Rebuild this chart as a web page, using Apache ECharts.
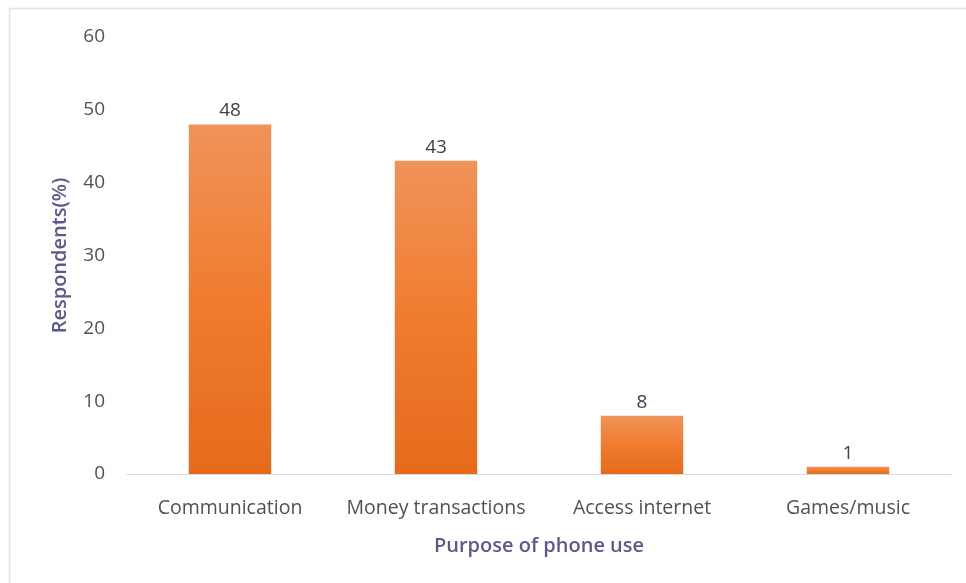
<!DOCTYPE html>
<html>
<head>
<meta charset="utf-8">
<script src="https://cdn.jsdelivr.net/npm/echarts@6/dist/echarts.min.js"></script>
<style>
  html, body { margin: 0; padding: 0; background: #ffffff; }
  #chart { width: 966px; height: 583px; }
</style>
</head>
<body>
<div id="chart"></div>
<script>
// Share of respondents by main purpose of phone use
const categories = ['Communication', 'Money transactions', 'Access internet', 'Games/music'];
const respondents = [48, 43, 8, 1];
const yTicks = { min: 0, max: 60, interval: 10 };

const FONT = '"Open Sans", Lato, sans-serif';
const chart = echarts.init(document.getElementById('chart'), null, { renderer: 'canvas' });

chart.setOption({
  backgroundColor: '#ffffff',
  animation: false,
  graphic: [
    // thin frame along the top and left of the plot card
    { type: 'line', shape: { x1: 9, y1: 8.5, x2: 966, y2: 8.5 }, style: { stroke: '#e3e3e8', lineWidth: 1.5 } },
    { type: 'line', shape: { x1: 9.5, y1: 8, x2: 9.5, y2: 583 }, style: { stroke: '#e3e3e8', lineWidth: 1.5 } }
  ],
  grid: { left: 127, right: 15, top: 37, bottom: 109, containLabel: false },
  xAxis: {
    type: 'category',
    data: categories,
    name: 'Purpose of phone use',
    nameLocation: 'middle',
    nameGap: 62,
    nameTextStyle: { color: '#5a5a8c', fontSize: 20, fontFamily: FONT, fontWeight: 600 },
    axisLine: { show: true, lineStyle: { color: '#d9d9d9', width: 1 } },
    axisTick: { show: false },
    axisLabel: { color: '#505058', fontSize: 19.5, fontFamily: FONT, margin: 24, interval: 0, hideOverlap: false },
    splitLine: { show: false }
  },
  yAxis: {
    type: 'value',
    min: yTicks.min,
    max: yTicks.max,
    interval: yTicks.interval,
    name: 'Respondents(%)',
    nameLocation: 'middle',
    nameGap: 57,
    nameRotate: 90,
    nameTextStyle: { color: '#5a5a8c', fontSize: 20, fontFamily: FONT, fontWeight: 600 },
    axisLine: { show: false },
    axisTick: { show: false },
    axisLabel: { color: '#505058', fontSize: 19, fontFamily: FONT, margin: 22 },
    splitLine: { show: false }
  },
  series: [{
    type: 'bar',
    data: respondents,
    barWidth: '40%',
    itemStyle: {
      color: new echarts.graphic.LinearGradient(0, 0, 0, 1, [
        { offset: 0, color: '#f0935a' },
        { offset: 0.5, color: '#f07c2e' },
        { offset: 1, color: '#e66a1c' }
      ])
    },
    label: {
      show: true,
      position: 'top',
      distance: 4,
      color: '#404048',
      fontSize: 19,
      fontFamily: FONT
    }
  }]
});
</script>
</body>
</html>
